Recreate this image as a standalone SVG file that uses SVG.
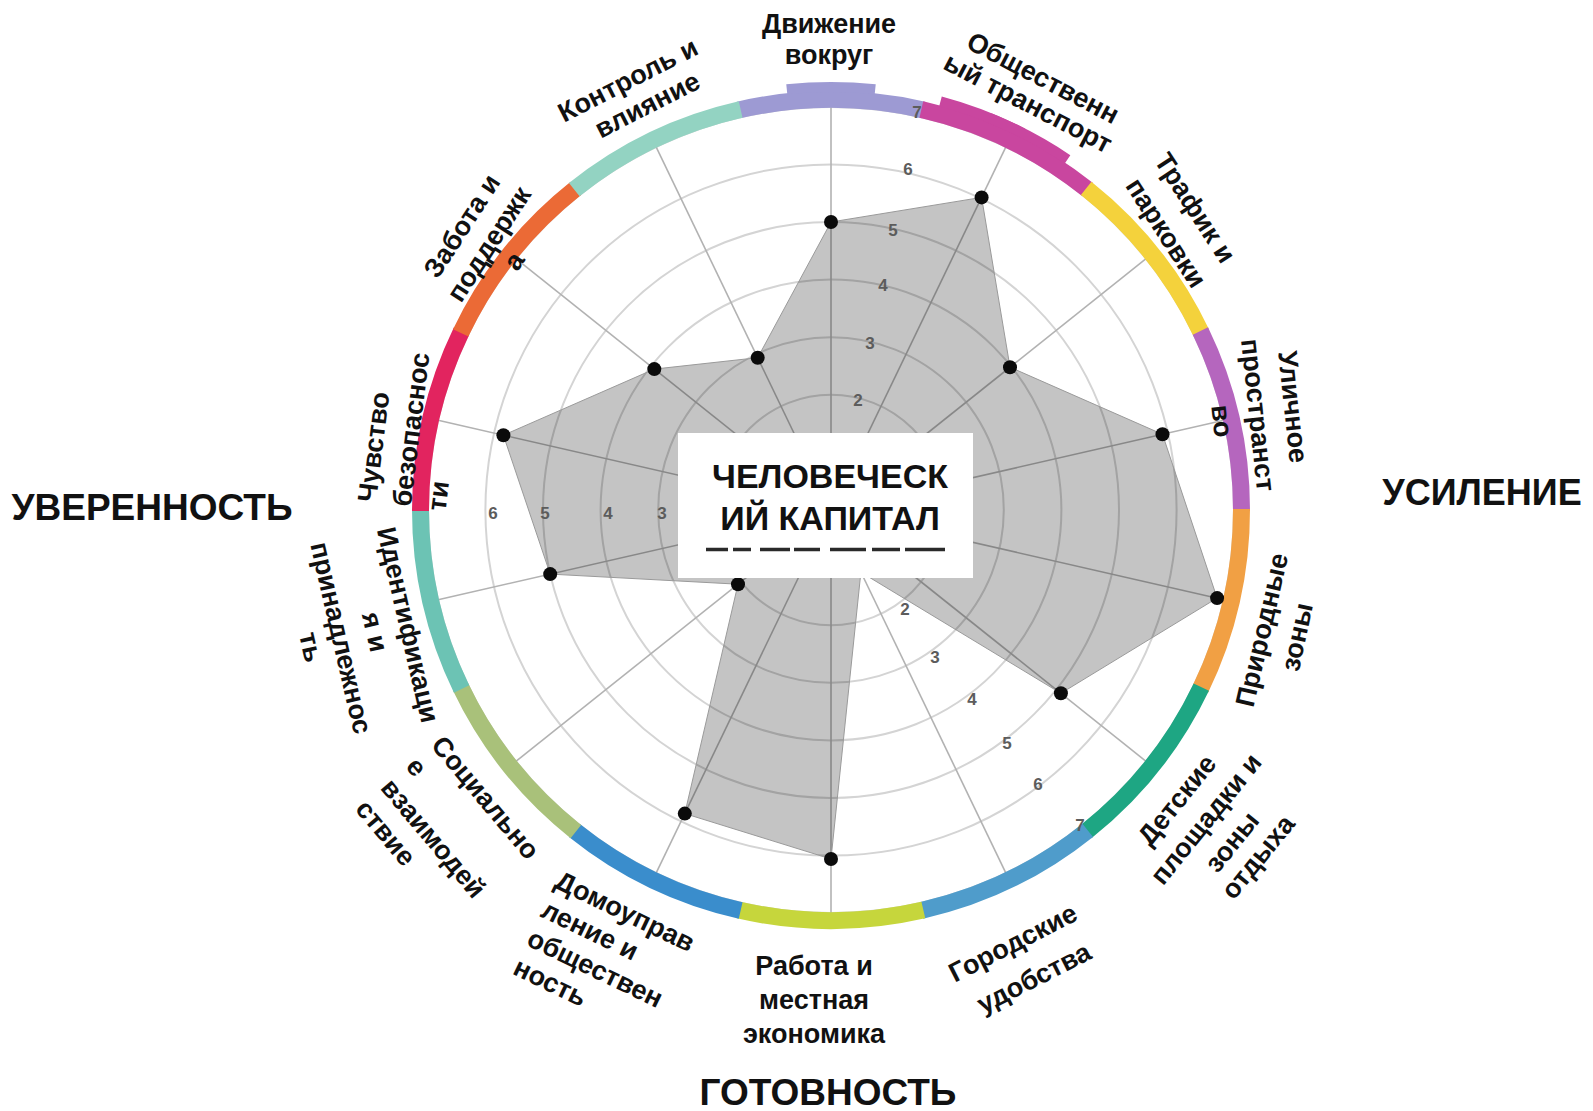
<svg xmlns="http://www.w3.org/2000/svg" xmlns:xlink="http://www.w3.org/1999/xlink" width="1593" height="1111" viewBox="0 0 1593 1111">
<style>
  .lbl { font-family: "Liberation Sans", Arial, sans-serif; font-weight: bold; font-size: 27px; fill: #111; }
  .mid { text-anchor: middle; }
  .ttl { font-family: "Liberation Sans", Arial, sans-serif; font-weight: bold; font-size: 36px; fill: #111; text-anchor: middle; }
  .tick { font-family: "Liberation Sans", Arial, sans-serif; font-size: 17px; font-weight: bold; fill: #5c5c5c; text-anchor: middle; }
  .ring { fill: none; stroke: #d4d4d4; stroke-width: 2; }
  .axis { stroke: #b2b2b2; stroke-width: 1.6; }
  .dot { fill: #0b0b0b; }
</style>
<defs>
  <path id="seg" d="M736.75,101.74 A419,419 0 0 1 925.25,101.74 L921.43,118.30 A402,402 0 0 0 740.57,118.30 Z"/>
  <path id="raise" d="M786.26,84.35 A428,428 0 0 1 875.74,84.35 L874.69,94.29 A418,418 0 0 0 787.31,94.29 Z"/>
</defs>
<rect x="0" y="0" width="1593" height="1111" fill="#ffffff"/>

<g id="grid">
  <circle class="ring" cx="831" cy="510" r="57.6"/>
  <circle class="ring" cx="831" cy="510" r="115.2"/>
  <circle class="ring" cx="831" cy="510" r="172.8"/>
  <circle class="ring" cx="831" cy="510" r="230.4"/>
  <circle class="ring" cx="831" cy="510" r="288"/>
  <circle class="ring" cx="831" cy="510" r="345.6"/>
  <circle class="ring" cx="831" cy="510" r="403"/>
  <line class="axis" x1="831" y1="510" x2="831" y2="107"/>
  <line class="axis" x1="831" y1="510" x2="1005.9" y2="146.9"/>
  <line class="axis" x1="831" y1="510" x2="1146.1" y2="258.7"/>
  <line class="axis" x1="831" y1="510" x2="1223.9" y2="420.3"/>
  <line class="axis" x1="831" y1="510" x2="1223.9" y2="599.7"/>
  <line class="axis" x1="831" y1="510" x2="1146.1" y2="761.3"/>
  <line class="axis" x1="831" y1="510" x2="1005.9" y2="873.1"/>
  <line class="axis" x1="831" y1="510" x2="831" y2="913"/>
  <line class="axis" x1="831" y1="510" x2="656.1" y2="873.1"/>
  <line class="axis" x1="831" y1="510" x2="515.9" y2="761.3"/>
  <line class="axis" x1="831" y1="510" x2="438.1" y2="599.7"/>
  <line class="axis" x1="831" y1="510" x2="438.1" y2="420.3"/>
  <line class="axis" x1="831" y1="510" x2="515.9" y2="258.7"/>
  <line class="axis" x1="831" y1="510" x2="656.1" y2="146.9"/>
</g>

<g id="band">
  <use xlink:href="#seg" fill="#9d9ad3"/>
  <use xlink:href="#raise" fill="#9d9ad3"/>
  <use xlink:href="#seg" fill="#c9469f" transform="rotate(25.714 831 510)"/>
  <use xlink:href="#raise" fill="#c9469f" transform="rotate(21 831 510)"/>
  <use xlink:href="#raise" fill="#c9469f" transform="rotate(28 831 510)"/>
  <use xlink:href="#seg" fill="#f4d23c" transform="rotate(51.429 831 510)"/>
  <use xlink:href="#seg" fill="#b566be" transform="rotate(77.143 831 510)"/>
  <use xlink:href="#seg" fill="#f1a044" transform="rotate(102.857 831 510)"/>
  <use xlink:href="#seg" fill="#1ea683" transform="rotate(128.571 831 510)"/>
  <use xlink:href="#seg" fill="#4f9ccb" transform="rotate(154.286 831 510)"/>
  <use xlink:href="#seg" fill="#c6d63c" transform="rotate(180 831 510)"/>
  <use xlink:href="#seg" fill="#3a8dcc" transform="rotate(205.714 831 510)"/>
  <use xlink:href="#seg" fill="#a9c17a" transform="rotate(231.429 831 510)"/>
  <use xlink:href="#seg" fill="#6cc3b4" transform="rotate(257.143 831 510)"/>
  <use xlink:href="#seg" fill="#e2245f" transform="rotate(282.857 831 510)"/>
  <use xlink:href="#seg" fill="#eb6a36" transform="rotate(308.571 831 510)"/>
  <use xlink:href="#seg" fill="#93d3c2" transform="rotate(334.286 831 510)"/>
</g>

<g id="data">
  <polygon points="831,222 981.6,197.4 1010,367.2 1162.5,434.3 1217.1,598.1 1060.9,693.3 860.9,572.2 831,859 684.8,813.6 738,584.2 550.2,574.1 503.4,435.2 654.3,369.1 757.7,357.7" fill="#000000" fill-opacity="0.23" stroke="#9a9a9a" stroke-width="1"/>
  <circle class="dot" cx="831" cy="222" r="7"/>
  <circle class="dot" cx="981.6" cy="197.4" r="7"/>
  <circle class="dot" cx="1010" cy="367.2" r="7"/>
  <circle class="dot" cx="1162.5" cy="434.3" r="7"/>
  <circle class="dot" cx="1217.1" cy="598.1" r="7"/>
  <circle class="dot" cx="1060.9" cy="693.3" r="7"/>
  <circle class="dot" cx="831" cy="859" r="7"/>
  <circle class="dot" cx="684.8" cy="813.6" r="7"/>
  <circle class="dot" cx="738" cy="584.2" r="7"/>
  <circle class="dot" cx="550.2" cy="574.1" r="7"/>
  <circle class="dot" cx="503.4" cy="435.2" r="7"/>
  <circle class="dot" cx="654.3" cy="369.1" r="7"/>
  <circle class="dot" cx="757.7" cy="357.7" r="7"/>
</g>

<g id="ticks">
  <text class="tick" x="917" y="118">7</text>
  <text class="tick" x="908" y="175">6</text>
  <text class="tick" x="893" y="236">5</text>
  <text class="tick" x="883" y="291">4</text>
  <text class="tick" x="870" y="349">3</text>
  <text class="tick" x="858" y="406">2</text>
  <text class="tick" x="493" y="519">6</text>
  <text class="tick" x="545" y="519">5</text>
  <text class="tick" x="608" y="519">4</text>
  <text class="tick" x="662" y="519">3</text>
  <text class="tick" x="905" y="615">2</text>
  <text class="tick" x="935" y="663">3</text>
  <text class="tick" x="972" y="705">4</text>
  <text class="tick" x="1007" y="749">5</text>
  <text class="tick" x="1038" y="790">6</text>
  <text class="tick" x="1080" y="831">7</text>
</g>

<g id="center-box">
  <rect x="678" y="433" width="295" height="145" fill="#ffffff"/>
  <text class="ttl" x="830" y="488" style="font-size:34px">ЧЕЛОВЕЧЕСК</text>
  <text class="ttl" x="830" y="530" style="font-size:34px">ИЙ КАПИТАЛ</text>
  <line x1="706" y1="549.5" x2="945" y2="549.5" stroke="#2a2a2a" stroke-width="3.5" stroke-dasharray="22 5 18 9 30 4 26 10 36 6 28 5 40"/>
</g>

<g id="lbl-dvizhenie" class="lbl mid">
  <text x="829" y="33">Движение</text>
  <text x="829" y="64">вокруг</text>
</g>
<g id="lbl-transport" class="lbl mid">
  <text transform="translate(1043,78) rotate(27.5)" y="9">Общественн</text>
  <text transform="translate(1028,103) rotate(27.5)" y="9">ый транспорт</text>
</g>
<g id="lbl-traffic" class="lbl mid">
  <text transform="translate(1195,208) rotate(57)" y="9">Трафик и</text>
  <text transform="translate(1166,233) rotate(57)" y="9">парковки</text>
</g>
<g id="lbl-street" class="lbl mid">
  <text transform="translate(1293,407) rotate(84)" y="9">Уличное</text>
  <text transform="translate(1258,415) rotate(84)" y="9">пространст</text>
  <text transform="translate(1222,421) rotate(84)" y="9">во</text>
</g>
<g id="lbl-nature" class="lbl mid">
  <text transform="translate(1262,630) rotate(-77)" y="9">Природные</text>
  <text transform="translate(1297,637) rotate(-78)" y="9">зоны</text>
</g>
<g id="lbl-play" class="lbl mid">
  <text transform="translate(1177,800) rotate(-51)" y="9">Детские</text>
  <text transform="translate(1206,819) rotate(-51)" y="9">площадки и</text>
  <text transform="translate(1232,842) rotate(-51)" y="9">зоны</text>
  <text transform="translate(1258,857) rotate(-51)" y="9">отдыха</text>
</g>
<g id="lbl-amenities" class="lbl mid">
  <text transform="translate(1013,943) rotate(-27)" y="9">Городские</text>
  <text transform="translate(1034,978) rotate(-27)" y="9">удобства</text>
</g>
<g id="lbl-work" class="lbl mid">
  <text x="814" y="975">Работа и</text>
  <text x="814" y="1009">местная</text>
  <text x="814" y="1043">экономика</text>
</g>
<g id="lbl-housing" class="lbl" transform="translate(557,879) rotate(25.7)">
  <text x="0" y="9">Домоуправ</text>
  <text x="0" y="41">ление и</text>
  <text x="0" y="73">обществен</text>
  <text x="0" y="105">ность</text>
</g>
<g id="lbl-social" class="lbl" transform="translate(437,740) rotate(50)">
  <text x="0" y="9">Социально</text>
  <text x="0" y="42">е</text>
  <text x="0" y="75">взаимодей</text>
  <text x="0" y="108">ствие</text>
</g>
<g id="lbl-identity" class="lbl mid">
  <text transform="translate(408,625) rotate(77)" y="9">Идентификаци</text>
  <text transform="translate(375,632) rotate(77)" y="9">я и</text>
  <text transform="translate(341,638) rotate(77)" y="9">принадлежнос</text>
  <text transform="translate(311,647) rotate(77)" y="9">ть</text>
</g>
<g id="lbl-safety" class="lbl" transform="translate(367,502) rotate(-83)">
  <text x="0" y="9">Чувство</text>
  <text x="0" y="44">безопаснос</text>
  <text x="0" y="79">ти</text>
</g>
<g id="lbl-care" class="lbl mid">
  <text transform="translate(462,226) rotate(-57)" y="9">Забота и</text>
  <text transform="translate(489,244) rotate(-57)" y="9">поддержк</text>
  <text transform="translate(514,261) rotate(-57)" y="9">а</text>
</g>
<g id="lbl-control" class="lbl mid" transform="translate(632,88) rotate(-27)">
  <text x="0" y="0">Контроль и</text>
  <text x="6" y="31">влияние</text>
</g>

<g id="themes">
  <text class="ttl" x="152" y="520" style="font-size:37px">УВЕРЕННОСТЬ</text>
  <text class="ttl" x="1482" y="505">УСИЛЕНИЕ</text>
  <text class="ttl" x="828" y="1105" style="font-size:37px">ГОТОВНОСТЬ</text>
</g>
</svg>
